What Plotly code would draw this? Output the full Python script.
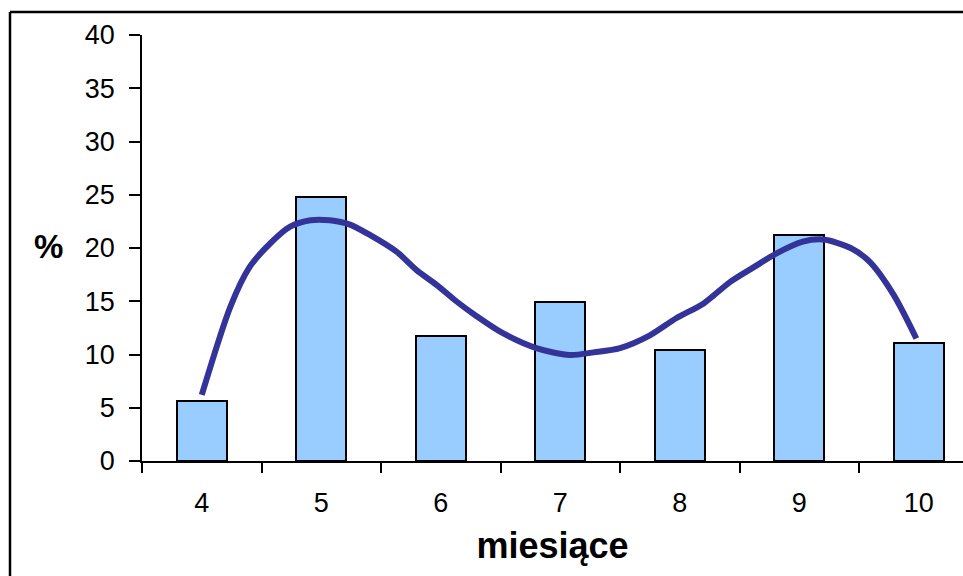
import plotly.graph_objects as go

# Monthly shares (%)
months = [4, 5, 6, 7, 8, 9, 10]
shares = [5.6, 24.8, 11.7, 14.9, 10.4, 21.2, 11.1]
month_labels = ["4", "5", "6", "7", "8", "9", "10"]

# Smoothed trend line through the monthly shares
trend_x = [4.00, 4.24, 4.40, 4.57, 4.74, 4.91, 5.07, 5.24, 5.41, 5.63, 5.80,
           5.97, 6.13, 6.30, 6.52, 6.80, 7.08, 7.28, 7.50, 7.75, 7.97, 8.20,
           8.42, 8.62, 8.81, 9.03, 9.20, 9.43, 9.59, 9.79, 9.98]
trend_y = [6.2, 14.5, 18.2, 20.4, 22.0, 22.6, 22.6, 22.2, 21.2, 19.65, 17.9,
           16.5, 15.0, 13.6, 12.0, 10.6, 9.95, 10.2, 10.6, 11.8, 13.4, 14.8,
           16.8, 18.2, 19.5, 20.6, 20.8, 20.0, 18.7, 15.6, 11.5]

y_ticks = [0, 5, 10, 15, 20, 25, 30, 35, 40]
boundaries = [3.5, 4.5, 5.5, 6.5, 7.5, 8.5, 9.5]

W, H = 963, 576
ML, MT, MB = 142, 35, 115
plot_w = W - ML
plot_h = H - MT - MB
px_per_month = 119.5

fig = go.Figure()
fig.add_trace(go.Bar(
    x=months, y=shares, width=0.42,
    marker=dict(color="#99CCFF", line=dict(color="black", width=2)),
    hoverinfo="x+y",
))
fig.add_trace(go.Scatter(
    x=trend_x, y=trend_y, mode="lines",
    line=dict(color="#333399", width=6, shape="spline", smoothing=0.8),
    hoverinfo="skip",
))

font_main = "Liberation Sans, Arial, sans-serif"


def px_to_paper_x(px):
    return (px - ML) / plot_w


def px_to_paper_y(py):
    return (H - MB - py) / plot_h


fig.update_layout(
    width=W, height=H,
    margin=dict(l=ML, r=0, t=MT, b=MB, pad=0),
    paper_bgcolor="white", plot_bgcolor="white",
    showlegend=False,
    bargap=0,
    font=dict(family=font_main, color="black", size=27),
    xaxis=dict(
        range=[3.5, 3.5 + plot_w / px_per_month],
        tickmode="array", tickvals=months, ticktext=month_labels,
        ticks="", showgrid=False, zeroline=False,
        showline=True, linecolor="black", linewidth=1.5,
        tickfont=dict(size=27, family=font_main),
        ticklabelstandoff=17,
        minor=dict(tickmode="array", tickvals=boundaries, ticks="outside",
                   ticklen=10, tickwidth=1.5, tickcolor="black", showgrid=False),
        title=dict(text="<b>miesiące</b>", font=dict(size=36, family=font_main),
                   standoff=16),
        fixedrange=True,
    ),
    yaxis=dict(
        range=[0, 40],
        tickmode="array", tickvals=y_ticks,
        ticks="outside", ticklen=11, tickwidth=1.5, tickcolor="black",
        showgrid=False, zeroline=False,
        showline=True, linecolor="black", linewidth=1.5,
        tickfont=dict(size=27, family=font_main),
        ticklabelstandoff=9,
        fixedrange=True,
    ),
    annotations=[dict(
        text="<b>%</b>", xref="paper", yref="paper",
        x=px_to_paper_x(48), y=px_to_paper_y(246),
        xanchor="center", yanchor="middle", showarrow=False,
        font=dict(size=33, family=font_main, color="black"),
    )],
    shapes=[
        # chart area frame (left and top edges)
        dict(type="line", xref="paper", yref="paper",
             x0=px_to_paper_x(10), x1=px_to_paper_x(10),
             y0=px_to_paper_y(12), y1=px_to_paper_y(580),
             line=dict(color="black", width=2.5)),
        dict(type="line", xref="paper", yref="paper",
             x0=px_to_paper_x(10), x1=px_to_paper_x(970),
             y0=px_to_paper_y(12), y1=px_to_paper_y(12),
             line=dict(color="black", width=2.5)),
    ],
)

fig.write_html("out.html")
